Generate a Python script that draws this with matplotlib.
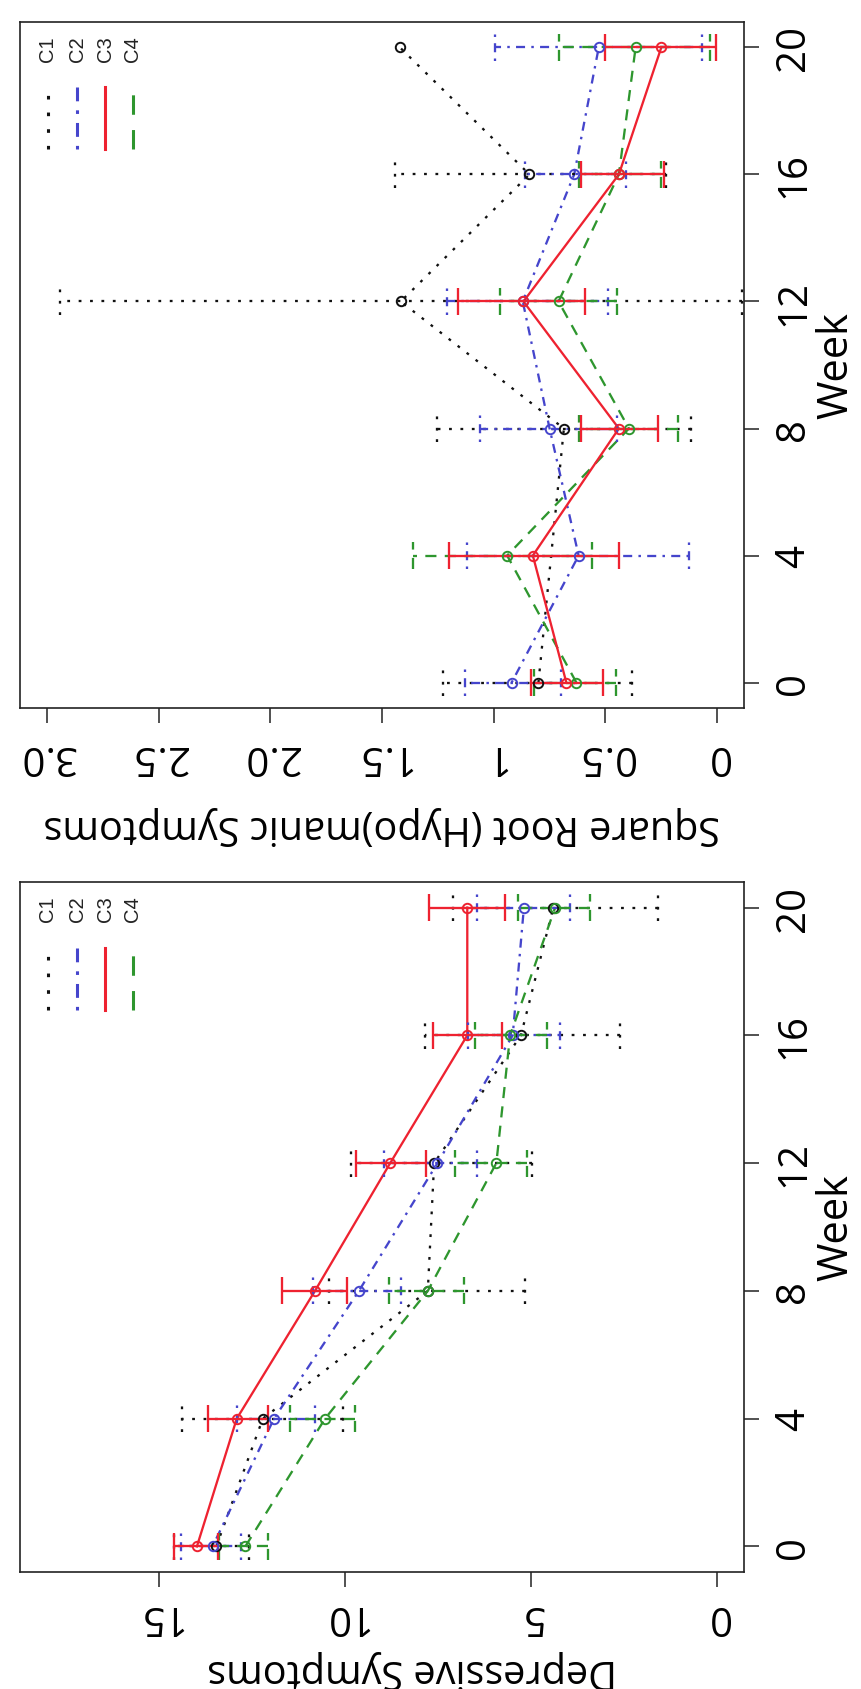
import numpy as np
import matplotlib
matplotlib.use("Agg")
import matplotlib.pyplot as plt

plt.rcParams["lines.scale_dashes"] = False

# ---------------- data ----------------
weeks = [0, 4, 8, 12, 16, 20]
groups = ["C1", "C2", "C3", "C4"]

# Depressive symptoms (left/lower panel)
dep_c1_mean = [13.45, 12.20, 7.77, 7.60, 5.27, 4.40]
dep_c1_lo = [12.57, 10.06, 5.15, 4.97, 2.61, 1.58]
dep_c1_hi = [14.59, 14.37, 10.43, 9.84, 7.85, 7.10]

dep_c2_mean = [13.55, 11.90, 9.62, 7.51, 5.49, 5.19]
dep_c2_lo = [12.79, 10.80, 8.50, 6.45, 4.23, 3.94]
dep_c2_hi = [14.40, 12.90, 10.85, 8.95, 6.70, 6.45]

dep_c3_mean = [13.97, 12.90, 10.80, 8.78, 6.71, 6.71]
dep_c3_lo = [13.41, 12.05, 9.94, 7.82, 5.78, 5.71]
dep_c3_hi = [14.59, 13.67, 11.68, 9.69, 7.63, 7.73]

dep_c4_mean = [12.67, 10.53, 7.77, 5.93, 5.56, 4.35]
dep_c4_lo = [12.05, 9.72, 6.81, 5.12, 4.56, 3.42]
dep_c4_hi = [13.38, 11.46, 8.80, 7.04, 6.50, 5.34]

# Square root (hypo)manic symptoms (right/upper panel)
man_c1_mean = [0.80, np.nan, 0.686, 1.416, 0.84, 1.42]
man_c1_lo = [0.38, np.nan, 0.117, -0.11, 0.23, np.nan]
man_c1_hi = [1.225, np.nan, 1.255, 2.94, 1.44, np.nan]

man_c2_mean = [0.92, 0.62, 0.75, 0.87, 0.64, 0.53]
man_c2_lo = [0.70, 0.125, 0.45, 0.49, 0.41, 0.07]
man_c2_hi = [1.13, 1.12, 1.06, 1.21, 0.86, 0.995]

man_c3_mean = [0.675, 0.825, 0.44, 0.867, 0.44, 0.25]
man_c3_lo = [0.51, 0.44, 0.265, 0.59, 0.24, 0.006]
man_c3_hi = [0.835, 1.20, 0.61, 1.16, 0.61, 0.50]

man_c4_mean = [0.63, 0.94, 0.395, 0.71, 0.44, 0.365]
man_c4_lo = [0.455, 0.56, 0.175, 0.45, 0.25, 0.03]
man_c4_hi = [0.82, 1.36, 0.62, 0.97, 0.62, 0.71]

dep_ticks = [0, 5, 10, 15]
dep_ticklabels = ["0", "5", "10", "15"]
man_ticks = [0, 0.5, 1.0, 1.5, 2.0, 2.5, 3.0]
man_ticklabels = ["0", "0.5", "1", "1.5", "2.0", "2.5", "3.0"]
week_ticklabels = ["0", "4", "8", "12", "16", "20"]

dep_label = "Depressive Symptoms"
man_label = "Square Root (Hypo)manic Symptoms"
week_label = "Week"

# ---------------- styles ----------------
colors = {"C1": "#111111", "C2": "#4545cc", "C3": "#ee2230", "C4": "#2e962e"}
lstyles = {"C1": (0, (2.0, 6.2)), "C2": (0, (1.8, 4.5, 6.5, 4.5)),
           "C3": "solid", "C4": (0, (8, 6))}
leg_styles = {"C1": (0, (2.6, 9.4)), "C2": (0, (2.6, 6.5, 10, 6.5)),
              "C3": "solid", "C4": (0, (14, 11))}
LW = 1.65
CAP = 0.42  # half cap length in weeks
FONT = "Open Sans"

W, H = 861, 1690
fig = plt.figure(figsize=(W / 100, H / 100), dpi=100)

box_l, box_r = 20, 744


def make_axes(top_px, bot_px):
    return fig.add_axes([box_l / W, 1 - bot_px / H, (box_r - box_l) / W,
                         (bot_px - top_px) / H])


def draw_panel(ax, data, vmax, ticks, ticklabels, xlabel, xlabel_x, xlabel_y,
               xtick_pad):
    wk = np.array(weeks, dtype=float)
    for g in ["C1", "C2", "C4", "C3"]:
        mean, lo, hi = (np.array(a, dtype=float) for a in data[g])
        c, ls = colors[g], lstyles[g]
        m = ~np.isnan(mean)
        ax.plot(mean[m], wk[m], color=c, linestyle=ls, lw=LW, zorder=2)
        e = ~np.isnan(lo)
        ax.hlines(wk[e], lo[e], hi[e], colors=c, linestyles=[ls], lw=LW, zorder=3)
        ax.vlines(lo[e], wk[e] - CAP, wk[e] + CAP, colors=c, linestyles=[ls],
                  lw=LW, zorder=3)
        ax.vlines(hi[e], wk[e] - CAP, wk[e] + CAP, colors=c, linestyles=[ls],
                  lw=LW, zorder=3)
        ax.plot(mean[m], wk[m], linestyle="none", marker="o", ms=6.8,
                mfc="none", mec=c, mew=1.4, zorder=4)

    ext = 0.04 * vmax
    ax.set_xlim(vmax + ext, -ext)
    ax.set_ylim(-0.8, 20.8)

    ax.set_xticks(ticks)
    ax.set_xticklabels(ticklabels, rotation=180, va="top", ha="center",
                       fontsize=29, family=FONT)
    ax.yaxis.tick_right()
    ax.set_yticks(weeks)
    ax.set_yticklabels(week_ticklabels, rotation=90, va="center", ha="left",
                       fontsize=29, family=FONT)
    ax.tick_params(axis="x", length=10.5, width=1.1, pad=xtick_pad,
                   color="#222222")
    ax.tick_params(axis="y", length=10.5, width=1.1, pad=11, color="#222222")
    for sp in ax.spines.values():
        sp.set_linewidth(1.2)
        sp.set_color("#222222")

    ax.set_xlabel(xlabel, rotation=180, fontsize=28.5, family=FONT,
                  va="center", ha="center")
    ax.xaxis.set_label_coords(xlabel_x, xlabel_y)
    ax.yaxis.set_label_position("right")
    ax.set_ylabel(week_label, rotation=90, fontsize=30, family=FONT,
                  va="center", ha="center", rotation_mode="default")
    ax.yaxis.set_label_coords(1.127, 0.5)

    # legend (drawn vertically, top-left of the rotated panel)
    lx = [0.038, 0.079, 0.118, 0.156]
    for x, g in zip(lx, groups):
        ax.plot([x, x], [0.815, 0.905], transform=ax.transAxes,
                color=colors[g], linestyle=leg_styles[g], lw=2.2,
                clip_on=False)
        ax.text(x, 0.962, g, transform=ax.transAxes, rotation=90,
                ha="center", va="center", fontsize=14.5,
                family="Liberation Sans", color="#222222")


ax_top = make_axes(23, 709)
draw_panel(ax_top,
           {"C1": (man_c1_mean, man_c1_lo, man_c1_hi),
            "C2": (man_c2_mean, man_c2_lo, man_c2_hi),
            "C3": (man_c3_mean, man_c3_lo, man_c3_hi),
            "C4": (man_c4_mean, man_c4_lo, man_c4_hi)},
           3.0, man_ticks, man_ticklabels, man_label, 0.5, -0.1706, 9)

ax_bot = make_axes(883, 1573)
draw_panel(ax_bot,
           {"C1": (dep_c1_mean, dep_c1_lo, dep_c1_hi),
            "C2": (dep_c2_mean, dep_c2_lo, dep_c2_hi),
            "C3": (dep_c3_mean, dep_c3_lo, dep_c3_hi),
            "C4": (dep_c4_mean, dep_c4_lo, dep_c4_hi)},
           18.0, dep_ticks, dep_ticklabels, dep_label, 0.541, -0.1404, 6)

fig.savefig("out.png", dpi=100)
